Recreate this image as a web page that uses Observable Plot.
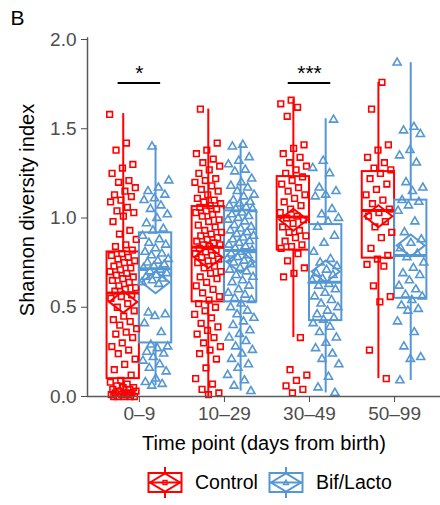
<!DOCTYPE html>
<html><head><meta charset="utf-8">
<script src="https://cdn.jsdelivr.net/npm/d3@7"></script>
<script src="https://cdn.jsdelivr.net/npm/@observablehq/plot@0.6"></script>
<style>
body{margin:0;background:#fff;font-family:"Liberation Sans",Arial,sans-serif;}
#chart{width:440px;position:relative;}
.legend{display:flex;justify-content:flex-start;align-items:center;height:45px;padding-left:147px;box-sizing:border-box;}
.legend .item{display:flex;align-items:center;margin-right:10px;}
.legend .lab{font-size:19.5px;color:#000;margin-left:12px;}
</style></head><body><div id="chart"></div><script>
const timePoints = ["0–9", "10–29", "30–49", "50–99"];
const groups = ["Control", "Bif/Lacto"];
const groupColors = ["#FF0000", "#5597D2"];
const groupSymbols = ["square", "triangle"];

// Shannon index values per time point
const controlValues = [
  [1.58,1.42,1.38,1.30,1.28,1.25,1.21,1.20,1.17,1.15,1.13,1.12,1.10,1.09,1.06,1.04,1.03,1.01,0.98,0.93,0.91,0.88,
   0.85,0.84,0.82,0.80,0.79,0.78,0.77,0.76,0.75,0.73,0.72,0.71,0.70,0.69,0.68,0.67,0.66,0.65,0.64,0.62,0.61,0.60,0.59,
   0.57,0.56,0.55,0.52,0.50,0.48,0.45,0.43,0.42,0.40,0.38,0.36,0.35,0.33,0.30,0.28,0.26,0.24,0.21,0.18,0.15,0.12,
   0.09,0.08,0.07,0.06,0.05,0.05,0.04,0.04,0.03,0.03,0.02,0.02,0.02,0.01,0.01,0.01,0.00,0.00,0.00,0.00,0.00],
  [1.61,1.42,1.38,1.36,1.33,1.31,1.29,1.27,1.25,1.22,1.21,1.20,1.18,1.16,1.15,1.13,1.11,1.10,1.09,1.08,1.07,
   1.06,1.05,1.04,1.03,1.02,1.01,0.99,0.98,0.96,0.95,0.93,0.92,0.91,0.90,0.89,0.88,0.87,0.86,0.85,0.85,0.84,
   0.83,0.82,0.81,0.80,0.79,0.78,0.77,0.76,0.75,0.73,0.72,0.70,0.69,0.67,0.66,0.64,0.62,0.60,0.58,0.56,0.54,
   0.52,0.50,0.48,0.46,0.44,0.41,0.39,0.37,0.35,0.33,0.30,0.28,0.26,0.24,0.21,0.16,0.10,0.07,0.04,0.02,0.01],
  [1.66,1.64,1.62,1.57,1.41,1.39,1.36,1.34,1.31,1.29,1.27,1.25,
   1.23,1.21,1.19,1.17,1.15,1.13,1.11,1.09,1.07,1.05,1.03,1.01,
   1.00,0.99,0.97,0.95,0.93,0.92,0.90,0.89,0.87,0.85,0.84,0.83,
   0.80,0.76,0.72,0.69,0.67,0.33,0.15,0.12,0.09,0.06,0.04,0.02],
  [1.76,1.61,1.41,1.38,1.34,1.31,1.28,1.27,
   1.25,1.22,1.19,1.16,1.13,1.10,1.08,1.05,
   1.03,1.01,0.98,0.95,0.92,0.89,0.83,0.79,
   0.77,0.74,0.73,0.62,0.56,0.53,0.26,0.10]
];
const bifValues = [
  [1.40,1.21,1.17,1.15,1.13,1.11,1.10,1.07,1.05,1.02,1.00,0.97,0.94,0.93,
   0.90,0.88,0.86,0.85,0.83,0.81,0.80,0.79,0.77,0.76,0.75,0.74,0.73,0.72,
   0.71,0.70,0.69,0.68,0.67,0.66,0.65,0.64,0.63,0.47,0.46,0.45,0.41,0.36,
   0.29,0.28,0.27,0.25,0.24,0.22,0.20,0.18,0.16,0.14,0.10,0.08,0.07,0.06],
  [1.41,1.40,1.34,1.32,1.30,1.27,1.26,1.22,1.20,1.18,1.17,1.15,1.13,1.12,1.10,1.09,1.08,1.07,1.06,1.05,1.05,
   1.03,1.02,1.01,1.00,0.99,0.98,0.96,0.95,0.94,0.93,0.92,0.91,0.90,0.89,0.88,0.87,0.86,0.85,0.84,0.83,0.82,
   0.81,0.80,0.79,0.78,0.77,0.76,0.75,0.74,0.72,0.71,0.70,0.68,0.67,0.65,0.64,0.62,0.60,0.58,0.57,0.55,0.54,
   0.52,0.50,0.48,0.46,0.44,0.42,0.40,0.37,0.35,0.33,0.31,0.28,0.26,0.24,0.21,0.18,0.16,0.12,0.09,0.06,0.03],
  [1.55,1.32,1.28,1.25,1.17,1.15,1.13,1.12,1.05,1.02,1.00,0.98,
   0.95,0.90,0.86,0.81,0.77,0.75,0.73,0.71,0.69,0.68,0.66,0.65,
   0.63,0.62,0.60,0.58,0.56,0.54,0.52,0.50,0.48,0.46,0.44,0.43,
   0.41,0.39,0.36,0.33,0.30,0.27,0.24,0.21,0.18,0.11,0.05,0.02],
  [1.87,1.51,1.49,1.47,1.38,1.35,1.31,1.20,1.17,1.15,
   1.10,1.09,1.07,1.04,0.98,0.92,0.88,0.86,0.83,0.80,
   0.78,0.75,0.72,0.69,0.68,0.65,0.62,0.60,0.57,0.56,
   0.54,0.51,0.49,0.48,0.42,0.36,0.28,0.22,0.21,0.09]
];

// Box-plot summaries
const controlLow    = [0.00, 0.00, 0.33, 0.10];
const controlQ1     = [0.10, 0.53, 0.82, 0.775];
const controlMedian = [0.58, 0.836, 1.005, 1.042];
const controlQ3     = [0.81, 1.064, 1.232, 1.26];
const controlHigh   = [1.585, 1.61, 1.665, 1.76];
const controlMean   = [0.53, 0.78, 0.99, 1.01];
const bifLow        = [0.06, 0.03, 0.02, 0.09];
const bifQ1         = [0.30, 0.53, 0.425, 0.55];
const bifMedian     = [0.716, 0.818, 0.64, 0.79];
const bifQ3         = [0.917, 1.04, 0.963, 1.10];
const bifHigh       = [1.406, 1.416, 1.556, 1.87];
const bifMean       = [0.64, 0.755, 0.70, 0.846];

// Significance annotations
const sigLabels = ["*", "", "***", ""];
const sigLevel = 1.757;

// ---- build tables ----
const groupOffset = [-0.19, 0.19];
const halfBox = 0.19;
const jitterHalf = 0.16;
const xDomain = [0.39, 4.54];

const valueSets = [controlValues, bifValues];
const stats = [
  {low: controlLow, q1: controlQ1, med: controlMedian, q3: controlQ3, high: controlHigh, mean: controlMean},
  {low: bifLow, q1: bifQ1, med: bifMedian, q3: bifQ3, high: bifHigh, mean: bifMean}
];

const points = [];
valueSets.forEach((sets, g) => {
  sets.forEach((vals, t) => {
    vals.forEach((v, j) => {
      const u = ((j * 0.6180339887 + g * 0.37 + t * 0.21) % 1) - 0.5;
      points.push({x: t + 1 + groupOffset[g] + u * 2 * jitterHalf, y: v, group: groups[g]});
    });
  });
});

const boxes = [];
stats.forEach((s, g) => {
  timePoints.forEach((tp, t) => {
    boxes.push({x: t + 1 + groupOffset[g], low: s.low[t], q1: s.q1[t], med: s.med[t], q3: s.q3[t],
                high: s.high[t], mean: s.mean[t], group: groups[g]});
  });
});

const sigs = timePoints.map((tp, t) => ({x: t + 1, label: sigLabels[t]})).filter(d => d.label);

const wideDiamond = {
  draw(ctx) {
    const w = 14, h = 11;
    ctx.moveTo(0, -h); ctx.lineTo(w, 0); ctx.lineTo(0, h); ctx.lineTo(-w, 0); ctx.closePath();
  }
};

const axisGray = "#4D4D4D";
const lineGray = "#5A5A5A";

const plot = Plot.plot({
  width: 440, height: 460,
  marginLeft: 87, marginRight: 0, marginTop: 39, marginBottom: 64,
  style: {fontFamily: "'Liberation Sans', Arial, sans-serif", background: "white"},
  x: {type: "linear", domain: xDomain},
  y: {domain: [0, 2]},
  color: {domain: groups, range: groupColors},
  symbol: {domain: groups, range: groupSymbols},
  marks: [
    // whiskers
    Plot.ruleX(boxes, {x: "x", y1: "low", y2: "q1", stroke: "group", strokeWidth: 2}),
    Plot.ruleX(boxes, {x: "x", y1: "q3", y2: "high", stroke: "group", strokeWidth: 2}),
    // boxes
    Plot.rect(boxes, {x1: d => d.x - halfBox, x2: d => d.x + halfBox, y1: "q1", y2: "q3",
                      fill: "none", stroke: "group", strokeWidth: 2}),
    // jittered points
    Plot.dot(points, {x: "x", y: "y", symbol: "group", stroke: "group", fill: "none",
                      r: d => d.group === groups[0] ? 2.6 : 2.3, strokeWidth: 1.6}),
    // medians
    Plot.ruleY(boxes, {y: "med", x1: d => d.x - halfBox, x2: d => d.x + halfBox, stroke: "group", strokeWidth: 3}),
    // means
    Plot.dot(boxes, {x: "x", y: "mean", symbol: wideDiamond, stroke: "group", fill: "none", strokeWidth: 2, r: 10}),
    // significance
    Plot.ruleY(sigs, {y: sigLevel, x1: d => d.x - 0.25, x2: d => d.x + 0.25, stroke: "black", strokeWidth: 2}),
    Plot.text(sigs, {x: "x", y: sigLevel, text: "label", lineAnchor: "bottom", dy: -3, fontSize: 21, fill: "black"}),
    // axis lines
    Plot.ruleX([xDomain[0]], {y1: 0, y2: 2.01, stroke: lineGray, strokeWidth: 1.5}),
    Plot.ruleY([0], {x1: xDomain[0], x2: xDomain[1], stroke: lineGray, strokeWidth: 1.5}),
    // axes
    Plot.axisY({ticks: [0, 0.5, 1, 1.5, 2], tickFormat: d3.format(".1f"), tickSize: 6, tickPadding: 5,
                fontSize: 19, color: axisGray, label: null}),
    Plot.axisX({ticks: [1, 2, 3, 4], tickFormat: d => timePoints[d - 1], tickSize: 6, tickPadding: 4,
                fontSize: 19, color: axisGray, label: null}),
    // titles
    Plot.text(["Time point (days from birth)"], {frameAnchor: "bottom", dy: 47, lineAnchor: "middle", fontSize: 20, fill: "black"}),
    Plot.text(["Shannon diversity index"], {frameAnchor: "left", dx: -60, dy: -8, rotate: -90, textAnchor: "middle",
                                            lineAnchor: "middle", fontSize: 20, fill: "black"}),
    Plot.text(["B"], {frameAnchor: "top-left", dx: -77, dy: -21, textAnchor: "start", lineAnchor: "middle", fontSize: 21, fill: "black"})
  ]
});

const chart = document.getElementById("chart");
chart.appendChild(plot);

// legend
const legend = document.createElement("div");
legend.className = "legend";
groups.forEach((g, i) => {
  const c = groupColors[i];
  const center = i === 0
    ? `<rect x="16" y="14.5" width="4" height="4" fill="none" stroke="${c}" stroke-width="1.4"/>`
    : `<path d="M18,14 L20.5,18.5 L15.5,18.5 Z" fill="none" stroke="${c}" stroke-width="1.4"/>`;
  const item = document.createElement("div");
  item.className = "item";
  item.innerHTML = `<svg width="36" height="34" viewBox="0 0 36 34">
    <line x1="18" y1="1" x2="18" y2="7" stroke="${c}" stroke-width="2"/>
    <line x1="18" y1="26" x2="18" y2="32" stroke="${c}" stroke-width="2"/>
    <rect x="1.5" y="7" width="33" height="19" fill="none" stroke="${c}" stroke-width="2"/>
    <line x1="1.5" y1="16.5" x2="34.5" y2="16.5" stroke="${c}" stroke-width="2"/>
    <path d="M3,16.5 L18,7.5 L33,16.5 L18,25.5 Z" fill="none" stroke="${c}" stroke-width="2"/>
    ${center}
  </svg><span class="lab">${g}</span>`;
  legend.appendChild(item);
});
chart.appendChild(legend);
</script></body></html>
